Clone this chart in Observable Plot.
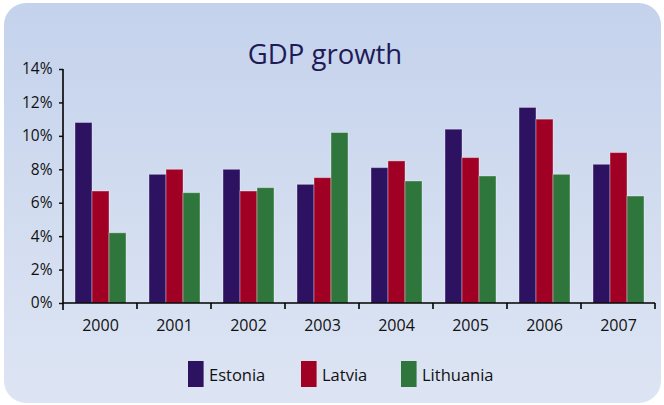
<!DOCTYPE html>
<html>
<head>
<meta charset="utf-8">
<script src="https://cdn.jsdelivr.net/npm/d3@7"></script>
<script src="https://cdn.jsdelivr.net/npm/@observablehq/plot@0.6"></script>
<style>
  html, body { margin: 0; padding: 0; background: #ffffff; }
  #wrap { position: relative; width: 664px; height: 405px; overflow: hidden; font-family: "Open Sans", "Noto Sans", sans-serif; }
  #card { position: absolute; left: 4px; top: 3px; width: 657px; height: 400px; border-radius: 22px;
          background: linear-gradient(to bottom, #c4d2ec 0%, #d3ddf0 55%, #dde5f4 100%); }
  #title { position: absolute; left: 0; width: 650px; top: 35px; text-align: center; font-size: 27.5px; color: #1f1b56; }
  #chart { position: absolute; left: 0; top: 0; }
  #legend { position: absolute; top: 361px; left: 0; width: 664px; height: 26px; }
  .item { position: absolute; top: 0; height: 26px; display: flex; align-items: center; font-size: 16.5px; color: #111; }
  .sw { width: 16px; height: 26px; margin-right: 5px; box-sizing: border-box; border-right: 1px solid rgba(255,255,255,0.35); }
</style>
</head>
<body>
<div id="wrap">
  <div id="card"></div>
  <div id="title">GDP growth</div>
  <div id="chart"></div>
  <div id="legend"></div>
</div>
<script>
const years = ["2000", "2001", "2002", "2003", "2004", "2005", "2006", "2007"];
const countries = ["Estonia", "Latvia", "Lithuania"];
const estonia   = [10.8, 7.7, 8.0, 7.1, 8.1, 10.4, 11.7, 8.3];
const latvia    = [6.7, 8.0, 6.7, 7.5, 8.5, 8.7, 11.0, 9.0];
const lithuania = [4.2, 6.6, 6.9, 10.2, 7.3, 7.6, 7.7, 6.4];
const colors = ["#2e1262", "#a10025", "#2e763b"];
const yTicks = [0, 2, 4, 6, 8, 10, 12, 14];

const series = [estonia, latvia, lithuania];
const data = [];
years.forEach((yr, i) => countries.forEach((c, j) => data.push({year: yr, country: c, value: series[j][i]})));

const plot = Plot.plot({
  width: 664,
  height: 340,
  marginTop: 69,
  marginBottom: 37,
  marginLeft: 62,
  marginRight: 9,
  style: { background: "transparent", fontFamily: "'Open Sans', 'Noto Sans', sans-serif", fontSize: "15px", color: "#111" },
  fx: { domain: years, paddingInner: 0, paddingOuter: 0 },
  x: { domain: countries, paddingInner: 0, paddingOuter: 0.62, axis: null },
  y: { domain: [0, 14] },
  color: { domain: countries, range: colors },
  marks: [
    Plot.barY(data, { fx: "year", x: "country", y: "value", fill: "country", stroke: "#ffffff", strokeOpacity: 0.35, strokeWidth: 1 }),
    Plot.axisY({ ticks: yTicks, tickSize: 4, tickPadding: 7, tickFormat: d => d + "%", label: null, strokeWidth: 1.5 }),
    Plot.axisFx({ anchor: "bottom", tickSize: 0, tickPadding: 16, label: null })
  ]
});
document.getElementById("chart").appendChild(plot);

const svg = d3.select(plot);
svg.selectAll('g[aria-label="y-axis tick label"]').attr("font-size", 15.5).attr("fill", "#111");
svg.selectAll('g[aria-label="y-axis tick"]').attr("stroke", "#000");
svg.selectAll('g[aria-label="fx-axis tick label"]').attr("font-size", 16).attr("fill", "#111");

// axis lines and category boundary ticks drawn from the plot's own scales
const fx = plot.scale("fx");
const y = plot.scale("y");
const y0 = y.apply(0);
const x0 = fx.apply(years[0]);
const x1 = fx.apply(years[years.length - 1]) + fx.bandwidth;
const g = svg.append("g").attr("stroke", "#000").attr("stroke-width", 1.6);
g.append("line").attr("x1", x0).attr("x2", x0).attr("y1", y.apply(14)).attr("y2", y0 + 7);
g.append("line").attr("x1", x0).attr("x2", x1).attr("y1", y0).attr("y2", y0);
years.forEach(yr => {
  const xb = fx.apply(yr) + fx.bandwidth;
  g.append("line").attr("x1", xb).attr("x2", xb).attr("y1", y0).attr("y2", y0 + 6);
});

// legend
const legendPos = [188, 301, 401];
const legend = document.getElementById("legend");
countries.forEach((c, i) => {
  const it = document.createElement("div");
  it.className = "item";
  it.style.left = legendPos[i] + "px";
  const sw = document.createElement("div");
  sw.className = "sw";
  sw.style.background = colors[i];
  it.appendChild(sw);
  const t = document.createElement("span");
  t.textContent = c;
  it.appendChild(t);
  legend.appendChild(it);
});
</script>
</body>
</html>
